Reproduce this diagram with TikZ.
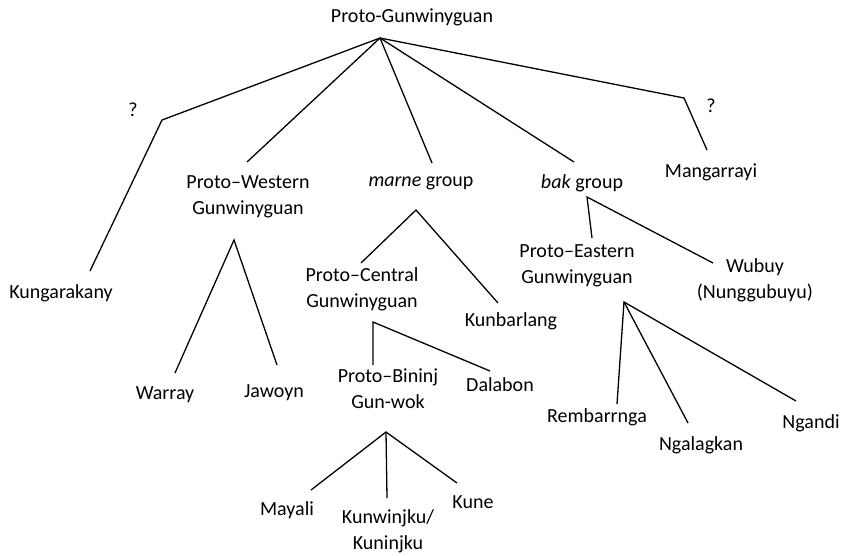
\documentclass[tikz,border=0pt]{standalone}
\usepackage{fontspec}
\setmainfont{Carlito}
\begin{document}
\begin{tikzpicture}[x=1pt,y=-1pt,
  lbl/.style={inner sep=0pt,align=center,font=\fontsize{20}{26}\selectfont},
  branch/.style={line width=1.3pt,black}]
\useasboundingbox[fill=white] (0,0) rectangle (842,555);
% labels
\node[lbl] (root) at (412,17) {Proto-Gunwinyguan};
\node[lbl] (q1) at (133,110) {?};
\node[lbl] (q2) at (711,106) {?};
\node[lbl] (kung) at (61,293) {Kungarakany};
\node[lbl] (pw) at (248,197) {Proto–Western\\Gunwinyguan};
\node[lbl] (marne) at (421,183) {\textit{marne} group};
\node[lbl] (bak) at (582,183) {\textit{bak} group};
\node[lbl] (mang) at (711,172) {Mangarrayi};
\node[lbl] (warray) at (165,395) {Warray};
\node[lbl] (jawoyn) at (274,393) {Jawoyn};
\node[lbl] (pc) at (362,289) {Proto–Central\\Gunwinyguan};
\node[lbl] (kunb) at (511,321) {Kunbarlang};
\node[lbl] (pb) at (388,389) {Proto–Bininj\\Gun-wok};
\node[lbl] (dalabon) at (500,385) {Dalabon};
\node[lbl] (mayali) at (287,510) {Mayali};
\node[lbl] (kunw) at (388,531) {Kunwinjku/\\Kuninjku};
\node[lbl] (kune) at (473,502) {Kune};
\node[lbl] (pe) at (577,266) {Proto–Eastern\\Gunwinyguan};
\node[lbl] (wubuy) at (755,280) {Wubuy\\(Nunggubuyu)};
\node[lbl] (remb) at (597,417) {Rembarrnga};
\node[lbl] (ngal) at (701,445) {Ngalagkan};
\node[lbl] (ngandi) at (811,423) {Ngandi};
% branch points
\coordinate (r0) at (380,38);
\coordinate (k1) at (162,120);
\coordinate (k2) at (90,271);
\coordinate (pwT) at (247,162);
\coordinate (mT) at (432,163);
\coordinate (bT) at (574,162);
\coordinate (g1) at (684,98);
\coordinate (g2) at (707,150);
\coordinate (pwA) at (234,240);
\coordinate (wA) at (175,373);
\coordinate (jA) at (277,365);
\coordinate (mA) at (416,210);
\coordinate (pcT) at (361,263);
\coordinate (kbT) at (498,303);
\coordinate (pcA) at (373,322);
\coordinate (pbT) at (373,365);
\coordinate (dT) at (490,371);
\coordinate (pbA) at (386,432);
\coordinate (myT) at (311,490);
\coordinate (kwT) at (387,498);
\coordinate (knT) at (457,483);
\coordinate (bA) at (587,197);
\coordinate (peT) at (592,238);
\coordinate (wbT) at (713,263);
\coordinate (peA) at (624,302);
\coordinate (rbT) at (617,404);
\coordinate (ngT) at (688,423);
\coordinate (ndT) at (796,401);
% branches
\draw[branch] (r0) -- (k1) -- (k2);
\draw[branch] (r0) -- (pwT);
\draw[branch] (r0) -- (mT);
\draw[branch] (r0) -- (bT);
\draw[branch] (r0) -- (g1) -- (g2);
\draw[branch] (wA) -- (pwA) -- (jA);
\draw[branch] (pcT) -- (mA) -- (kbT);
\draw[branch] (pbT) -- (pcA) -- (dT);
\draw[branch] (myT) -- (pbA) -- (knT);
\draw[branch] (pbA) -- (kwT);
\draw[branch] (peT) -- (bA) -- (wbT);
\draw[branch] (rbT) -- (peA) -- (ndT);
\draw[branch] (peA) -- (ngT);
\end{tikzpicture}
\end{document}
